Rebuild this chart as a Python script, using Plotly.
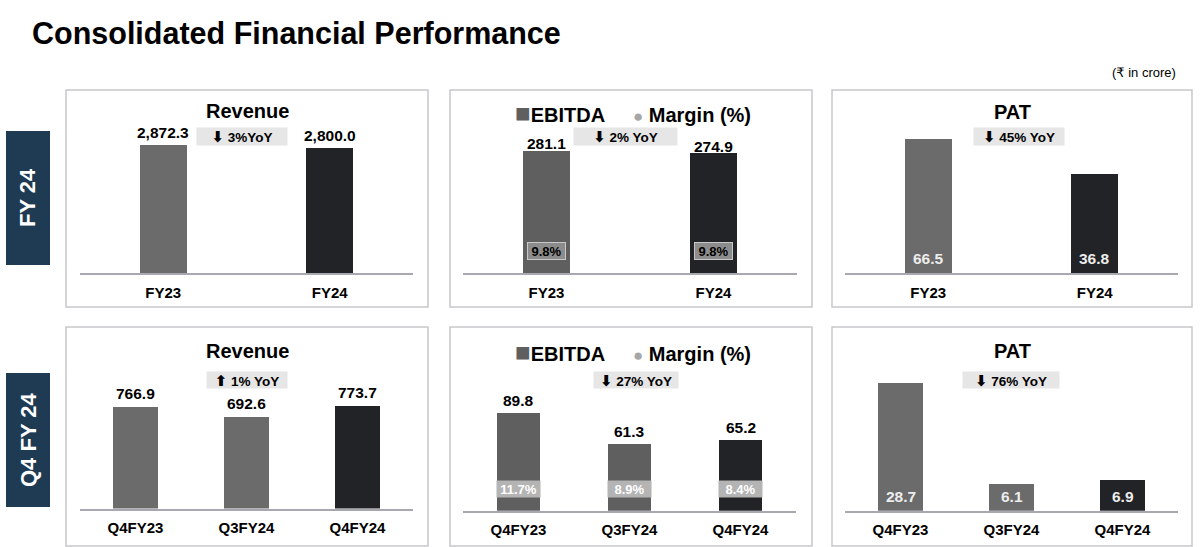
import plotly.graph_objects as go

W, H = 1200, 547


def px(x):
    return x / W


def py(y):
    return 1 - y / H


# ---------------- data ----------------
fy_cats = ["FY23", "FY24"]
q_cats = ["Q4FY23", "Q3FY24", "Q4FY24"]

fy_revenue = [2872.3, 2800.0]
fy_ebitda = [281.1, 274.9]
fy_margin = [9.8, 9.8]
fy_pat = [66.5, 36.8]

q_revenue = [766.9, 692.6, 773.7]
q_ebitda = [89.8, 61.3, 65.2]
q_margin = [11.7, 8.9, 8.4]
q_pat = [28.7, 6.1, 6.9]

yoy_arrows = ["⬇", "⬇", "⬇", "⬆", "⬇", "⬇"]
yoy_texts = ["3%YoY", "2% YoY", "45% YoY", "1% YoY", "27% YoY", "76% YoY"]
section_labels = ["FY 24", "Q4 FY 24"]

# ---------------- style ----------------
FONT = "Liberation Sans, Arial, DejaVu Sans, sans-serif"
GRAY = "#6B6B6B"
GRAY_E = "#5F5F5F"
DARK = "#222326"
NAVY = "#1F3B54"
BORDER = "#C8C8CC"
AXIS = "#A8A8B0"

panels = [
    dict(cats=fy_cats, vals=fy_revenue, kind="value", x0=80, x1=413, yb=273, yt=120,
         rng=[0, 3434], base=0, colors=[GRAY, DARK], width=0.28, shift=13),
    dict(cats=fy_cats, vals=fy_ebitda, kind="ebitda", x0=463, x1=797, yb=273, yt=120,
         rng=[0, 351.7], base=0, colors=[GRAY_E, DARK], width=0.28, shift=7,
         margin=fy_margin, mbg="#8C8C8C", mfg="#000000", mborder="#C8C8C8", mw=37),
    dict(cats=fy_cats, vals=fy_pat, kind="pat", x0=845, x1=1178, yb=273, yt=120,
         rng=[-46.2, 82.5], base=-46.2, colors=[GRAY, DARK], width=0.28, shift=15),
    dict(cats=q_cats, vals=q_revenue, kind="value", x0=80, x1=413, yb=508.5, yt=360,
         rng=[0, 1120.8], base=0, colors=[GRAY, GRAY, DARK], width=0.4, shift=13.4),
    dict(cats=q_cats, vals=q_ebitda, kind="ebitda", x0=463, x1=796, yb=510.7, yt=360,
         rng=[0, 139.0], base=0, colors=[GRAY_E, GRAY_E, DARK], width=0.39, shift=13,
         margin=q_margin, mbg="#B4B4B4", mfg="#FFFFFF", mborder="rgba(0,0,0,0)", mw=43),
    dict(cats=q_cats, vals=q_pat, kind="pat", x0=845, x1=1178, yb=510.7, yt=360,
         rng=[0, 33.8], base=0, colors=[GRAY, GRAY, DARK], width=0.4, shift=14),
]

fig = go.Figure()
annotations = []
shapes = []
layout_axes = {}

for i, p in enumerate(panels, start=1):
    xa = "x" if i == 1 else f"x{i}"
    ya = "y" if i == 1 else f"y{i}"
    xkey = "xaxis" if i == 1 else f"xaxis{i}"
    ykey = "yaxis" if i == 1 else f"yaxis{i}"
    base = p["base"]
    fig.add_trace(go.Bar(
        x=p["cats"], y=[v - base for v in p["vals"]], base=base,
        marker=dict(color=p["colors"], line=dict(width=0)),
        width=p["width"], xaxis=xa, yaxis=ya, showlegend=False,
        hoverinfo="skip",
    ))
    layout_axes[xkey] = dict(
        domain=[px(p["x0"]), px(p["x1"])], anchor=ya, type="category",
        categoryorder="array", categoryarray=p["cats"],
        range=[-0.5, len(p["cats"]) - 0.5],
        showline=True, linecolor=AXIS, linewidth=1.5, showgrid=False, zeroline=False,
        ticks="", ticklabelstandoff=5,
        tickfont=dict(family=FONT, size=15, color="#000000", weight="bold"),
        fixedrange=True,
    )
    layout_axes[ykey] = dict(
        domain=[py(p["yb"]), py(p["yt"])], anchor=xa, range=p["rng"],
        showline=False, showgrid=False, zeroline=False, showticklabels=False,
        fixedrange=True,
    )
    for c, v in zip(p["cats"], p["vals"]):
        if p["kind"] == "pat":
            annotations.append(dict(
                x=c, y=p["rng"][0], xref=xa, yref=ya, text=f"{v:.1f}",
                showarrow=False, yanchor="middle", yshift=p["shift"],
                font=dict(family=FONT, size=15.5, color="#EDEDED", weight="bold"),
            ))
        else:
            annotations.append(dict(
                x=c, y=v, xref=xa, yref=ya, text=f"{v:,.1f}",
                showarrow=False, yanchor="middle", yshift=p["shift"],
                font=dict(family=FONT, size=15.5, color="#000000", weight="bold"),
            ))
    if p["kind"] == "ebitda":
        for c, m in zip(p["cats"], p["margin"]):
            annotations.append(dict(
                x=c, y=0, xref=xa, yref=ya, text=f"{m:.1f}%",
                showarrow=False, yanchor="middle", yshift=22,
                width=p["mw"], height=16, bgcolor=p["mbg"],
                bordercolor=p["mborder"], borderwidth=1, borderpad=0,
                font=dict(family=FONT, size=13, color=p["mfg"], weight="bold"),
            ))

# panel frames
for (bx0, bx1) in [(66, 428), (450, 812), (832, 1192)]:
    for (by0, by1) in [(90, 307), (327, 546)]:
        shapes.append(dict(type="rect", xref="paper", yref="paper",
                           x0=px(bx0), x1=px(bx1), y0=py(by1), y1=py(by0),
                           line=dict(color=BORDER, width=1.5), fillcolor="rgba(0,0,0,0)"))

# side labels
for lab, (sy0, sy1) in zip(section_labels, [(131, 265), (373, 507)]):
    shapes.append(dict(type="rect", xref="paper", yref="paper",
                       x0=px(6), x1=px(50), y0=py(sy1), y1=py(sy0),
                       line=dict(width=0), fillcolor=NAVY, layer="below"))
    annotations.append(dict(x=px(28), y=py((sy0 + sy1) / 2), xref="paper", yref="paper",
                            text=lab, showarrow=False, textangle=-90,
                            xanchor="center", yanchor="middle",
                            font=dict(family=FONT, size=22, color="#FFFFFF", weight="bold")))

# panel titles
legend_text = ('<span style="color:#5F5F5F;font-size:26px">■</span>EBITDA\u00a0\u00a0\u00a0\u00a0\u00a0'
               '<span style="color:#A6A6A6;font-size:17px">●</span> Margin (%)')
titles = [("Revenue", 247, 111), (legend_text, 633, 113), ("PAT", 1012, 112),
          ("Revenue", 247, 351), (legend_text, 633, 352), ("PAT", 1012, 351)]
for t, tx, ty in titles:
    annotations.append(dict(x=px(tx), y=py(ty), xref="paper", yref="paper", text=t,
                            showarrow=False, xanchor="center", yanchor="middle",
                            font=dict(family=FONT, size=20, color="#000000", weight="bold")))

# YoY badges
badges = [(242, 136, 90, 17), (626, 136, 103, 17), (1019, 136, 90, 17),
          (247, 380, 80, 16), (636, 380, 84, 16), (1011, 380, 96, 16)]
for a, t, (bx, by, bw, bh) in zip(yoy_arrows, yoy_texts, badges):
    annotations.append(dict(x=px(bx), y=py(by), xref="paper", yref="paper",
                            text=f'<span style="font-size:15px">{a}</span> {t}',
                            showarrow=False, xanchor="center", yanchor="middle",
                            width=bw, height=bh, bgcolor="#E6E6E6", borderpad=0,
                            font=dict(family=FONT, size=13.5, color="#000000", weight="bold")))

# page title and unit note
annotations.append(dict(x=px(30), y=py(33), xref="paper", yref="paper",
                        text="Consolidated Financial Performance", showarrow=False,
                        xanchor="left", yanchor="middle",
                        font=dict(family=FONT, size=30.5, color="#000000", weight="bold")))
annotations.append(dict(x=px(1178), y=py(72), xref="paper", yref="paper",
                        text="(₹ in crore)", showarrow=False,
                        xanchor="right", yanchor="middle",
                        font=dict(family=FONT, size=13, color="#000000")))

fig.update_layout(
    width=W, height=H, margin=dict(l=0, r=0, t=0, b=0),
    paper_bgcolor="#FFFFFF", plot_bgcolor="rgba(0,0,0,0)",
    annotations=annotations, shapes=shapes, bargap=0,
    **layout_axes,
)

fig.write_html("out.html", config={"displayModeBar": False},
               post_script="document.body.style.margin='0px';document.body.style.overflow='hidden';")
